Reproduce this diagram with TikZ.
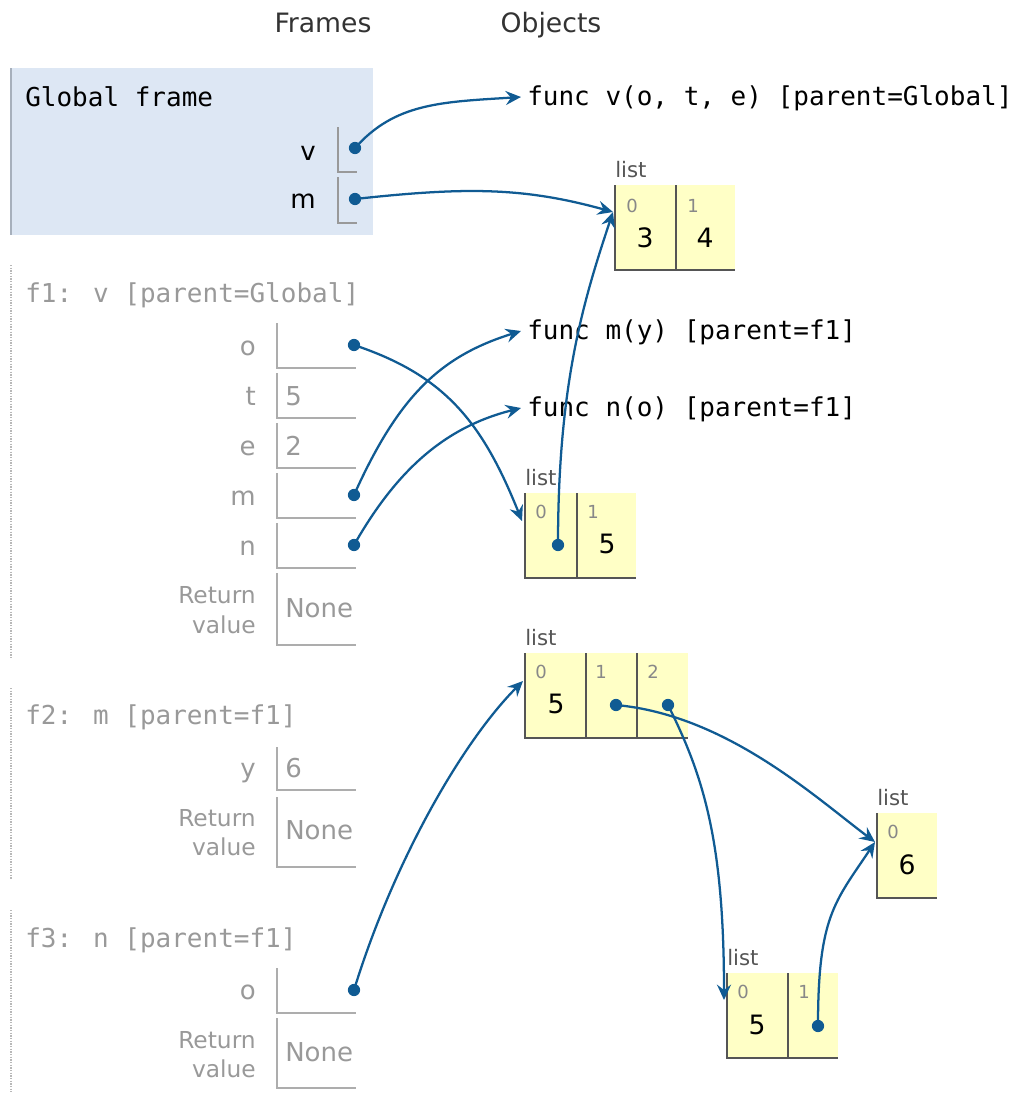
\documentclass[tikz,border=0pt]{standalone}
\usepackage{fontspec}
\setmainfont{DejaVu Sans}
\newfontfamily\monof{DejaVu Sans Mono}
\usetikzlibrary{arrows.meta}
\definecolor{ptrblue}{HTML}{105B93}
\definecolor{gframe}{HTML}{DDE7F4}
\definecolor{gedge}{HTML}{A7B0BC}
\definecolor{heapy}{HTML}{FFFFC6}
\definecolor{lgray}{HTML}{999999}
\definecolor{mgray}{HTML}{888888}
\definecolor{dgray}{HTML}{555555}
\tikzset{
  hdr/.style={font=\fontsize{20}{23}\selectfont, text=black!80, inner sep=0pt},
  monot/.style={font=\monof\fontsize{19.5}{22}\selectfont, inner sep=0pt},
  ftitle/.style={monot, text=lgray},
  gvar/.style={font=\fontsize{19.5}{22}\selectfont, inner sep=0pt, text=black},
  fvar/.style={font=\fontsize{19.5}{22}\selectfont, inner sep=0pt, text=lgray},
  retl/.style={font=\fontsize{17.5}{20}\selectfont, inner sep=0pt, text=lgray},
  gbox/.style={draw=lgray, line width=1pt},
  fbox/.style={draw=lgray!80, line width=1.2pt},
  fedge/.style={draw=lgray!70, line width=1.3pt, dash pattern=on 1pt off 1pt},
  hline/.style={draw=dgray, line width=1.3pt},
  lstl/.style={font=\fontsize{16}{18}\selectfont, inner sep=0pt, text=dgray},
  idx/.style={font=\fontsize{13.5}{15}\selectfont, inner sep=0pt, text=mgray},
  val/.style={font=\fontsize{20}{22}\selectfont, inner sep=0pt, text=black},
  ptr/.style={draw=ptrblue, line width=1.7pt, -{Stealth[length=11.5pt,width=10.5pt,inset=4pt]}},
  dot/.style={fill=ptrblue}
}
\begin{document}
\begin{tikzpicture}[x=0.75pt,y=-0.75pt]
\useasboundingbox (0,0) rectangle (1021,1097);

% headers
\node[hdr, anchor=base] (hf) at (323,32) {Frames};
\node[hdr, anchor=base] (ho) at (551,32) {Objects};

% ---------- Global frame
\fill[gframe] (10,68) rectangle (373,235);
\draw[gedge, line width=1.5pt] (11,68) -- (11,235);
\node[monot, anchor=base west] (gt) at (25,106) {Global frame};
\node[gvar, anchor=base east] (gvl) at (316,160) {v};
\draw[gbox] (338,127) |- (357,172);
\node[gvar, anchor=base east] (gml) at (316,208) {m};
\draw[gbox] (338,177) |- (357,223);
\coordinate (gv) at (355,148);
\coordinate (gm) at (355,199);

% ---------- f1 frame
\draw[fedge] (11,265) -- (11,658);
\node[ftitle, anchor=base west] (f1t) at (25,302) {f1: v [parent=Global]};
\draw[fbox] (277,323) |- (356,368);
\node[fvar, anchor=base east] (f1o) at (256,355) {o};
\draw[fbox] (277,373) |- (356,418);
\node[fvar, anchor=base east] (f1t) at (256,405) {t};
\node[fvar, anchor=base west] (f1tv) at (285,405) {5};
\draw[fbox] (277,423) |- (356,468);
\node[fvar, anchor=base east] (f1e) at (256,455) {e};
\node[fvar, anchor=base west] (f1ev) at (285,455) {2};
\draw[fbox] (277,473) |- (356,518);
\node[fvar, anchor=base east] (f1m) at (256,505) {m};
\draw[fbox] (277,523) |- (356,568);
\node[fvar, anchor=base east] (f1n) at (256,555) {n};
\draw[fbox] (277,573) |- (356,645);
\node[retl, anchor=base east] (f1r1) at (256,603) {Return};
\node[retl, anchor=base east] (f1r2) at (256,633) {value};
\node[fvar, anchor=base west] (f1rv) at (285,617) {None};
\coordinate (f1od) at (354,345);
\coordinate (f1md) at (354,495);
\coordinate (f1nd) at (354,545);

% ---------- f2 frame
\draw[fedge] (11,688) -- (11,880);
\node[ftitle, anchor=base west] (f2t) at (25,724) {f2: m [parent=f1]};
\draw[fbox] (277,747) |- (356,790);
\node[fvar, anchor=base east] (f2y) at (256,777) {y};
\node[fvar, anchor=base west] (f2yv) at (285,777) {6};
\draw[fbox] (277,797) |- (356,867);
\node[retl, anchor=base east] (f2r1) at (256,826) {Return};
\node[retl, anchor=base east] (f2r2) at (256,855) {value};
\node[fvar, anchor=base west] (f2rv) at (285,839) {None};

% ---------- f3 frame
\draw[fedge] (11,910) -- (11,1092);
\node[ftitle, anchor=base west] (f3t) at (25,947) {f3: n [parent=f1]};
\draw[fbox] (277,968) |- (356,1013);
\node[fvar, anchor=base east] (f3o) at (256,999) {o};
\draw[fbox] (277,1018) |- (356,1088);
\node[retl, anchor=base east] (f3r1) at (256,1048) {Return};
\node[retl, anchor=base east] (f3r2) at (256,1077) {value};
\node[fvar, anchor=base west] (f3rv) at (285,1061) {None};
\coordinate (f3od) at (354,990);

% ---------- functions
\node[monot, anchor=base west] (fv) at (527,105) {func v(o, t, e) [parent=Global]};
\node[monot, anchor=base west] (fm) at (527,339) {func m(y) [parent=f1]};
\node[monot, anchor=base west] (fn) at (527,416) {func n(o) [parent=f1]};
\coordinate (tfv) at (521,97);
\coordinate (tfm) at (521,331);
\coordinate (tfn) at (521,408);

% ---------- list A  [3, 4]
\fill[heapy] (615,185) rectangle (735,270);
\draw[hline] (615,185) |- (735,270);
\draw[hline] (676,185) -- (676,270);
\node[lstl, anchor=base west] (Al) at (615,177) {list};
\node[idx, anchor=base west] (A0i) at (626,212) {0};
\node[idx, anchor=base west] (A1i) at (687,212) {1};
\node[val, anchor=base] (A0v) at (645,247) {3};
\node[val, anchor=base] (A1v) at (705,247) {4};
\coordinate (tA) at (613,212);

% ---------- list B  [ptr, 5]
\fill[heapy] (525,493) rectangle (636,578);
\draw[hline] (525,493) |- (636,578);
\draw[hline] (577,493) -- (577,578);
\node[lstl, anchor=base west] (Bl) at (525,485) {list};
\node[idx, anchor=base west] (B0i) at (535,518) {0};
\node[idx, anchor=base west] (B1i) at (587,518) {1};
\node[val, anchor=base] (B1v) at (607,553) {5};
\coordinate (B0d) at (558,545);
\coordinate (tB) at (522,521);

% ---------- list C  [5, ptr, ptr]
\fill[heapy] (525,653) rectangle (688,738);
\draw[hline] (525,653) |- (688,738);
\draw[hline] (586,653) -- (586,738);
\draw[hline] (637,653) -- (637,738);
\node[lstl, anchor=base west] (Cl) at (525,645) {list};
\node[idx, anchor=base west] (C0i) at (535,678) {0};
\node[idx, anchor=base west] (C1i) at (595,678) {1};
\node[idx, anchor=base west] (C2i) at (647,678) {2};
\node[val, anchor=base] (C0v) at (556,713) {5};
\coordinate (C1d) at (616,705);
\coordinate (C2d) at (668,705);
\coordinate (tC) at (523,681);

% ---------- list D  [6]
\fill[heapy] (877,813) rectangle (937,898);
\draw[hline] (877,813) |- (937,898);
\node[lstl, anchor=base west] (Dl) at (877,805) {list};
\node[idx, anchor=base west] (D0i) at (887,838) {0};
\node[val, anchor=base] (D0v) at (907,874) {6};
\coordinate (tD) at (875,842);

% ---------- list E  [5, ptr]
\fill[heapy] (727,973) rectangle (838,1058);
\draw[hline] (727,973) |- (838,1058);
\draw[hline] (788,973) -- (788,1058);
\node[lstl, anchor=base west] (El) at (727,965) {list};
\node[idx, anchor=base west] (E0i) at (737,998) {0};
\node[idx, anchor=base west] (E1i) at (798,998) {1};
\node[val, anchor=base] (E0v) at (757,1034) {5};
\coordinate (E1d) at (818,1026);
\coordinate (tE) at (724,1000);

% ---------- pointers
\draw[ptr] (gv) .. controls +(40,-45) and +(-80,5) .. (tfv);
\draw[ptr] (gm) .. controls +(110,-12) and +(-90,-25) .. (tA);
\draw[ptr] (f1od) .. controls +(90,30) and +(-40,-100) .. (tB);
\draw[ptr] (f1md) .. controls +(45,-100) and +(-80,25) .. (tfm);
\draw[ptr] (f1nd) .. controls +(40,-70) and +(-80,20) .. (tfn);
\draw[ptr] (B0d) .. controls +(0,-160) and +(-30,90) .. (tA);
\draw[ptr] (f3od) .. controls +(40,-130) and +(-60,60) .. (tC);
\draw[ptr] (C1d) .. controls +(110,10) and +(-60,-45) .. (tD);
\draw[ptr] (C2d) .. controls +(35,70) and +(0,-160) .. (tE);
\draw[ptr] (E1d) .. controls +(0,-110) and +(-40,60) .. (tD);

\foreach \d in {gv,gm,f1od,f1md,f1nd,B0d,f3od,C1d,C2d,E1d}
  \fill[dot] (\d) circle[radius=4.6pt];
\end{tikzpicture}
\end{document}
